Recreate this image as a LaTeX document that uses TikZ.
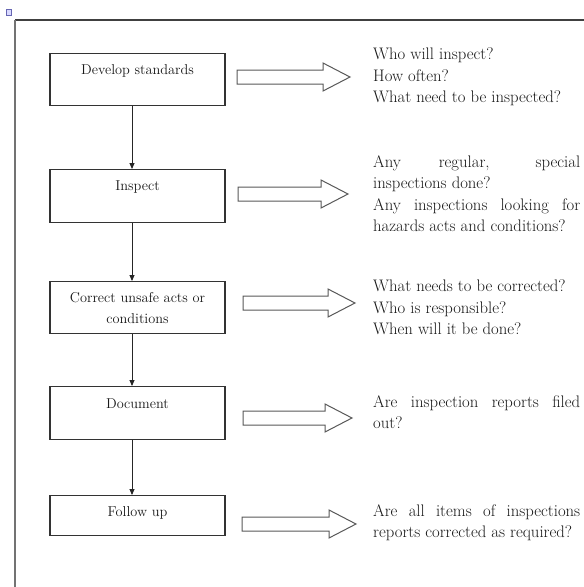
\documentclass[tikz,border=0pt]{standalone}
\usepackage{fontspec}
\usetikzlibrary{arrows.meta}
\tikzset{
  stepbox/.style={draw=black!80, line width=1.1pt, minimum width=175pt, inner xsep=2pt, inner ysep=0pt,
    anchor=north, font=\fontsize{14.3}{21}\selectfont, text=black!90},
  flow/.style={draw=black!85, line width=0.9pt, -{Triangle[length=6pt,width=5pt]}},
  harrow/.style={draw=black!65, line width=1pt, fill=white},
  qtext/.style={anchor=base west, inner sep=0pt, align=left, font=\fontsize{16.7}{21.5}\selectfont, text=black!90},
}
\newcommand{\blockarrow}[3]{%
  \draw[harrow] (#1,#3-7) -- (#2-27,#3-7) -- (#2-27,#3-14) -- (#2,#3) -- (#2-27,#3+14)
    -- (#2-27,#3+7) -- (#1,#3+7) -- cycle;}
\begin{document}
\begin{tikzpicture}[x=1pt,y=-1pt]
  \useasboundingbox (0,0) rectangle (584,587);
  \fill[white] (0,0) rectangle (584,587);
  % frame and icon
  \draw[black!75, line width=1.2pt] (15,20) -- (584,20);
  \draw[black!55, line width=2pt] (15,20) -- (15,587);
  \draw[fill=blue!15, draw=blue!50!black!60, line width=0.5pt] (6,9) rectangle (11,15);
  % boxes
  \node[stepbox, text height=20.5pt, text depth=31.5pt] (b1) at (137.5,53) {Develop standards};
  \node[stepbox, text height=20.5pt, text depth=32.5pt] (b2) at (137.5,169) {Inspect};
  \node[stepbox, minimum height=52pt, align=center] (b3) at (137.5,281) {Correct unsafe acts or\\conditions};
  \node[stepbox, text height=21.5pt, text depth=31.5pt] (b4) at (137.5,386) {Document};
  \node[stepbox, text height=20.5pt, text depth=19.5pt] (b5) at (137.5,495) {Follow up};
  % vertical connectors
  \coordinate (spine) at (132,0);
  \draw[flow] (b1.south -| spine) -- (b2.north -| spine);
  \draw[flow] (b2.south -| spine) -- (b3.north -| spine);
  \draw[flow] (b3.south -| spine) -- (b4.north -| spine);
  \draw[flow] (b4.south -| spine) -- (b5.north -| spine);
  % hollow arrows
  \blockarrow{237}{350}{77}
  \blockarrow{238}{348}{194}
  \blockarrow{243}{355}{303}
  \blockarrow{243}{352}{418}
  \blockarrow{242}{356}{524}
  % question texts (base anchor = baseline of the last line)
  \node[qtext] (q1) at (373,102.5) {Who will inspect?\\How often?\\What need to be inspected?};
  \node[qtext] (q2) at (373,231.5) {\makebox[207pt][s]{Any regular, special}\\inspections done?\\\makebox[207pt][s]{Any inspections looking for}\\hazards acts and conditions?};
  \node[qtext] (q3) at (373,334.5) {What needs to be corrected?\\Who is responsible?\\When will it be done?};
  \node[qtext] (q4) at (373,428.5) {\makebox[207pt][s]{Are inspection reports filed}\\out?};
  \node[qtext] (q5) at (373,537.5) {\makebox[207pt][s]{Are all items of inspections}\\reports corrected as required?};
\end{tikzpicture}
\end{document}
